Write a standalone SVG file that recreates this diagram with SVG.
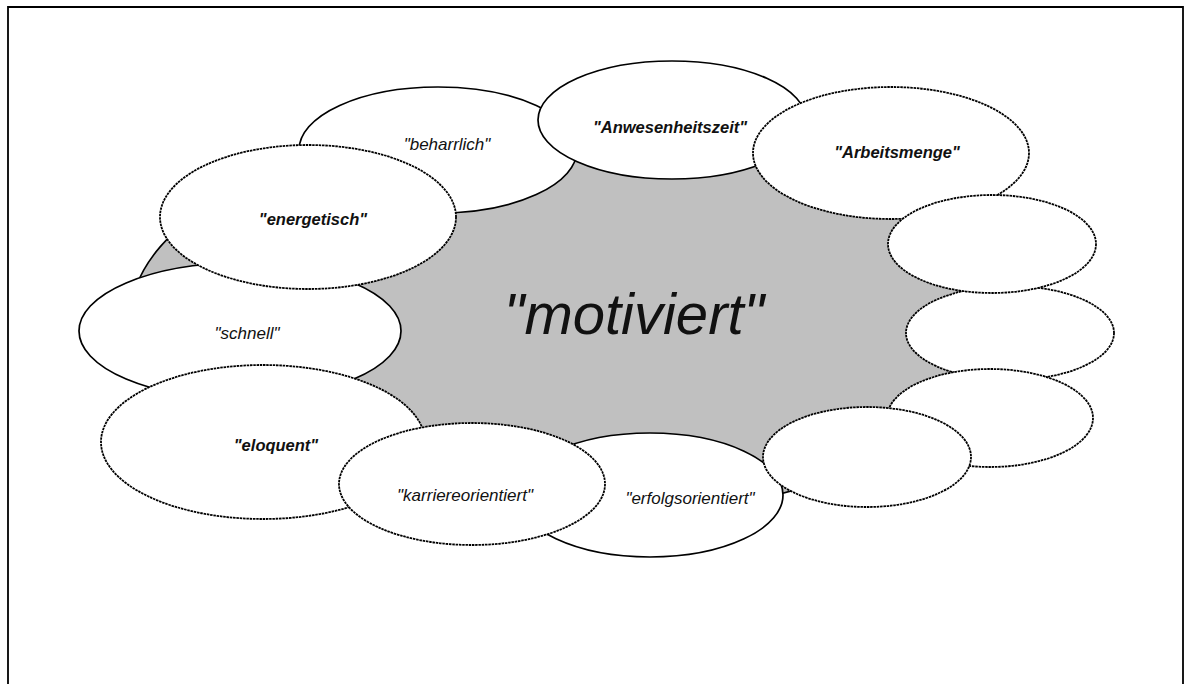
<svg xmlns="http://www.w3.org/2000/svg" width="1184" height="684" viewBox="0 0 1184 684">
  <style>
    .solid { fill: #ffffff; stroke: #000000; stroke-width: 1.7; }
    .dotted { fill: #ffffff; stroke: #000000; stroke-width: 1.8; stroke-dasharray: 2.5 0.8; }
    .lbl { font-family: "Liberation Sans", Arial, sans-serif; font-style: italic; text-anchor: middle; fill: #111111; }
    .reg { font-size: 17px; }
    .bold { font-size: 16.5px; font-weight: bold; }
  </style>

  <rect width="1184" height="684" fill="#ffffff"/>

  <!-- page frame (open at the bottom) -->
  <path d="M8,684 V7 H1183 V684" fill="none" stroke="#000000" stroke-width="1.8"/>

  <!-- central term -->
  <g id="node-motiviert">
    <ellipse cx="565" cy="320" rx="435" ry="200" fill="#c0c0c0" stroke="#000000" stroke-width="1.6"/>
    <text class="lbl" x="634" y="334" font-size="58">"motiviert"</text>
  </g>

  <g id="node-beharrlich">
    <ellipse class="solid" cx="438" cy="150" rx="139" ry="63"/>
    <text class="lbl reg" x="447" y="150">"beharrlich"</text>
  </g>

  <g id="node-schnell">
    <ellipse class="solid" cx="240" cy="331" rx="161" ry="68"/>
    <text class="lbl reg" x="247" y="339">"schnell"</text>
  </g>

  <g id="node-energetisch">
    <ellipse class="dotted" cx="308" cy="217" rx="148" ry="72"/>
    <text class="lbl bold" x="313" y="225">"energetisch"</text>
  </g>

  <g id="node-eloquent">
    <ellipse class="dotted" cx="263" cy="442" rx="162" ry="77"/>
    <text class="lbl bold" x="276" y="451">"eloquent"</text>
  </g>

  <g id="node-erfolgsorientiert">
    <ellipse class="solid" cx="650" cy="495" rx="133" ry="62"/>
    <text class="lbl reg" x="690" y="504">"erfolgsorientiert"</text>
  </g>

  <g id="node-karriereorientiert">
    <ellipse class="dotted" cx="472" cy="484" rx="133" ry="61"/>
    <text class="lbl reg" x="465" y="501">"karriereorientiert"</text>
  </g>

  <g id="node-anwesenheitszeit">
    <ellipse class="solid" cx="672" cy="120" rx="134" ry="59"/>
    <text class="lbl bold" x="670" y="133">"Anwesenheitszeit"</text>
  </g>

  <g id="node-arbeitsmenge">
    <ellipse class="dotted" cx="891" cy="153" rx="138" ry="66"/>
    <text class="lbl bold" x="897" y="158">"Arbeitsmenge"</text>
  </g>

  <!-- unlabelled slots on the right -->
  <g id="node-empty-2">
    <ellipse class="dotted" cx="1010" cy="333" rx="104" ry="47"/>
  </g>
  <g id="node-empty-1">
    <ellipse class="dotted" cx="992" cy="244" rx="104" ry="49"/>
  </g>
  <g id="node-empty-3">
    <ellipse class="dotted" cx="990" cy="418" rx="103" ry="49"/>
  </g>
  <g id="node-empty-4">
    <ellipse class="dotted" cx="867" cy="457" rx="104" ry="50"/>
  </g>

  <g id="connectors"></g>
</svg>
